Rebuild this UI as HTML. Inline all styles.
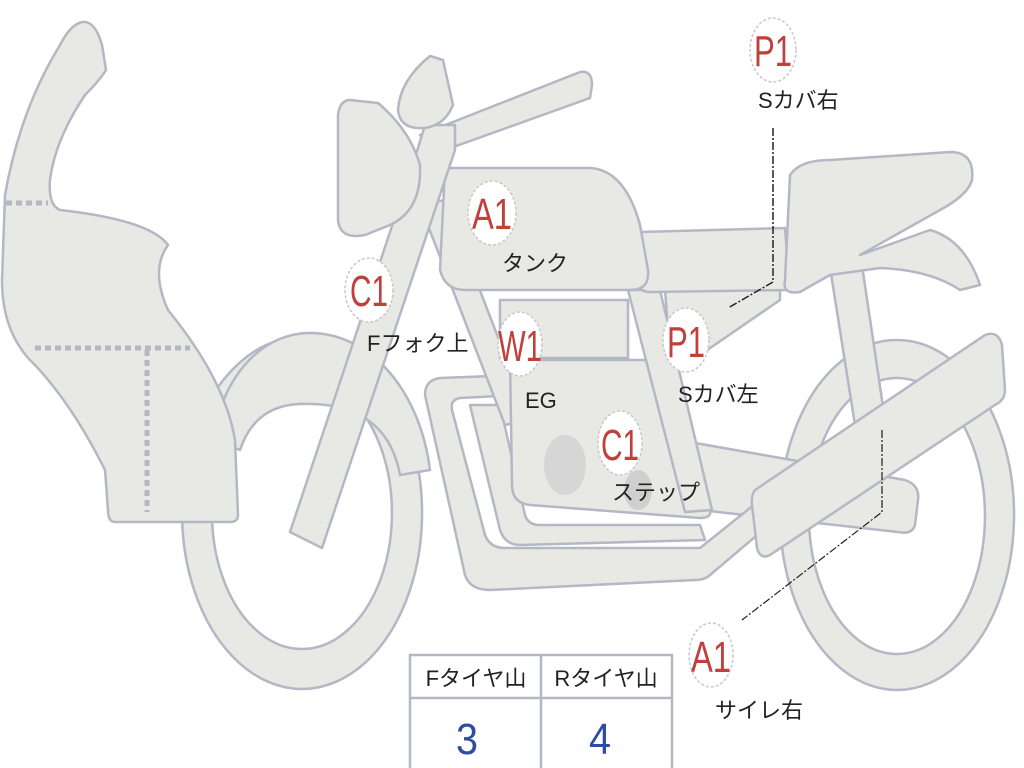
<!DOCTYPE html>
<html><head><meta charset="utf-8"><style>
html,body{margin:0;padding:0;background:#fff;width:1024px;height:768px;overflow:hidden}
svg{display:block}
.s{fill:#e8e8e4;stroke:#b3b8c4;stroke-width:2.5;stroke-linejoin:round}
.lb{font-family:"Liberation Sans","Noto Sans CJK JP",sans-serif;font-size:22px;fill:#222}
.cd{font-family:"Liberation Sans","Noto Sans CJK JP",sans-serif;font-size:44px;fill:#c0403c}
</style></head><body>
<svg width="1024" height="768" viewBox="0 0 1024 768">
<path class="s" fill-rule="evenodd" d="M302,337 a120,176 0 1,0 0.1,0 Z M302,377 a90,136 0 1,1 -0.1,0 Z"/>
<path class="s" fill-rule="evenodd" d="M897,340 a117,175 0 1,0 0.1,0 Z M897,378 a88,138 0 1,1 -0.1,0 Z"/>
<path class="s" d="M212,440 C225,370 265,333 310,333 C370,333 420,390 430,470 L400,475 C390,420 350,402 300,404 C270,405 250,420 240,450 Z"/>
<path class="s" d="M828,255 L860,252 L885,420 L855,425 Z"/>
<path class="s" d="M650,435 L905,480 Q920,485 918,500 L915,525 Q912,535 898,532 L655,505 Z"/>
<path class="s" d="M440,378 L520,375 L520,395 L460,398 Q450,400 452,410 L485,535 Q490,548 505,548 L700,548 L760,500 L775,520 L710,575 Q705,580 695,580 L490,590 Q470,590 465,575 L425,395 Q425,380 440,378 Z"/>
<path class="s" d="M470,405 L500,405 L525,515 Q528,525 540,525 L700,525 L705,540 L520,545 Q505,545 500,530 Z"/>
<path class="s" d="M420,205 L445,200 L530,420 L505,425 Z"/>
<path class="s" d="M510,360 L660,360 L710,510 Q712,518 700,518 L530,505 Q512,503 512,485 Z"/>
<ellipse cx="565" cy="465" rx="21" ry="30" fill="#d6d6d6"/>
<ellipse cx="638" cy="490" rx="14" ry="20" fill="#cfcfcf"/>
<ellipse cx="692" cy="485" rx="12" ry="18" fill="#cfcfcf"/>
<path class="s" d="M500,300 L628,300 L628,358 L500,358 Z"/>
<path class="s" d="M628,290 L660,290 L712,510 L685,512 Z"/>
<path class="s" d="M665,290 L780,290 L780,300 L700,355 L670,355 Z"/>
<path class="s" d="M640,232 L785,228 L790,290 L650,292 Q638,292 638,280 Z"/>
<path class="s" d="M790,175 Q800,160 830,160 L950,152 Q975,152 972,180 Q968,195 940,210 L860,255 L930,230 Q965,240 980,285 L960,290 Q930,270 880,268 L830,275 L800,292 Q782,295 785,280 Z"/>
<path class="s" d="M755,490 L985,335 Q998,330 1002,345 L1005,390 Q1005,400 995,405 L770,555 Q760,560 757,548 L752,505 Q751,495 755,490 Z"/>
<path class="s" d="M445,168 L590,168 Q625,170 640,225 L648,270 Q650,290 630,290 L465,290 Q445,290 440,270 Z"/>
<path class="s" d="M420,135 L580,72 Q592,70 592,85 L590,98 L445,150 L430,150 Z"/>
<path class="s" d="M425,125 L455,125 L455,150 L322,548 L290,532 L418,148 Z"/>
<path class="s" d="M350,100 L378,103 Q410,130 420,165 Q422,210 390,225 L365,235 Q340,240 338,220 L338,115 Q340,100 350,100 Z"/>
<path class="s" d="M430,56 L443,60 L453,105 Q445,125 425,128 Q400,130 398,110 Q400,80 430,56 Z"/>
<path class="s" d="M82,22 Q95,20 102,45 L106,70 Q100,80 85,95 Q55,140 50,180 Q48,205 60,210 Q150,220 168,245 Q150,270 168,310 Q225,380 235,440 L238,515 Q238,522 230,522 L115,522 Q108,522 108,510 L105,470 Q70,400 30,360 Q2,330 2,280 L5,195 Q20,110 60,45 Q70,25 82,22 Z"/>
<path d="M6,203 L48,203 M35,348 L190,348 M147,350 L147,512" stroke="#b3b8c4" stroke-width="5" stroke-dasharray="6,4" fill="none"/>
<path d="M773,128 L773,282 L728,308" stroke="#222" stroke-width="1.5" fill="none" stroke-dasharray="8,2,2,2"/>
<path d="M882,430 L882,512 L742,620" stroke="#222" stroke-width="1.2" fill="none" stroke-dasharray="8,2,2,2"/>
<g stroke="#c8c8c8" stroke-width="1.5" stroke-dasharray="3,2" fill="#fff">
<ellipse cx="492" cy="213" rx="24" ry="32"/>
<ellipse cx="369" cy="290" rx="24" ry="32"/>
<ellipse cx="520" cy="344" rx="22" ry="32"/>
<ellipse cx="686" cy="340" rx="23" ry="32"/>
<ellipse cx="620" cy="443" rx="22" ry="32"/>
<ellipse cx="773" cy="50" rx="23" ry="32"/>
<ellipse cx="711" cy="655" rx="22" ry="32"/>
</g>
<g class="cd" text-anchor="middle" lengthAdjust="spacingAndGlyphs">
<text x="492" y="229" textLength="40" lengthAdjust="spacingAndGlyphs">A1</text>
<text x="369" y="306" textLength="38" lengthAdjust="spacingAndGlyphs">C1</text>
<text x="520" y="361" textLength="44" lengthAdjust="spacingAndGlyphs">W1</text>
<text x="686" y="357" textLength="38" lengthAdjust="spacingAndGlyphs">P1</text>
<text x="620" y="460" textLength="38" lengthAdjust="spacingAndGlyphs">C1</text>
<text x="773" y="66" textLength="38" lengthAdjust="spacingAndGlyphs">P1</text>
<text x="711" y="672" textLength="40" lengthAdjust="spacingAndGlyphs">A1</text>
</g>
<g class="lb">
<text x="502" y="271">タンク</text>
<text x="367" y="351">Fフォク上</text>
<text x="525" y="408">EG</text>
<text x="678" y="402">Sカバ左</text>
<text x="612" y="500">ステップ</text>
<text x="758" y="108">Sカバ右</text>
<text x="715" y="718">サイレ右</text>
</g>
<g fill="none" stroke="#b3b8c4" stroke-width="2.5">
<rect x="410" y="655" width="262" height="115"/>
<line x1="410" y1="698" x2="672" y2="698"/>
<line x1="541" y1="655" x2="541" y2="768"/>
</g>
<g class="lb" text-anchor="middle">
<text x="476" y="686">Fタイヤ山</text>
<text x="606" y="686">Rタイヤ山</text>
</g>
<g font-family="Liberation Sans,sans-serif" font-size="44" fill="#2b4ea0" text-anchor="middle">
<text x="467" y="754" textLength="22" lengthAdjust="spacingAndGlyphs">3</text>
<text x="600" y="754" textLength="22" lengthAdjust="spacingAndGlyphs">4</text>
</g>
</svg>
</body></html>
